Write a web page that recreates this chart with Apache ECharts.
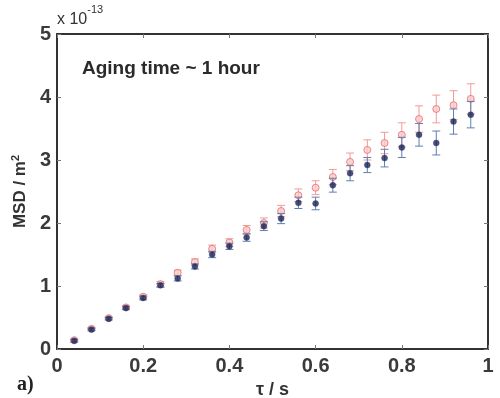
<!DOCTYPE html>
<html>
<head>
<meta charset="utf-8">
<script src="https://cdn.jsdelivr.net/npm/echarts@6/dist/echarts.min.js"></script>
<style>html,body{margin:0;padding:0;background:#fff}#c{width:500px;height:398px}</style>
</head>
<body>
<div id="c"></div>
<script>
var tau = [0.04,0.08,0.12,0.16,0.20,0.24,0.28,0.32,0.36,0.40,0.44,0.48,0.52,0.56,0.60,0.64,0.68,0.72,0.76,0.80,0.84,0.88,0.92,0.96];
var msdBlue = [0.13,0.31,0.48,0.65,0.81,1.01,1.12,1.31,1.50,1.63,1.77,1.95,2.07,2.32,2.31,2.60,2.79,2.92,3.03,3.20,3.40,3.27,3.61,3.72];
var errBlue = [0.02,0.02,0.02,0.02,0.03,0.03,0.04,0.04,0.05,0.05,0.06,0.07,0.08,0.09,0.10,0.11,0.12,0.12,0.14,0.16,0.18,0.19,0.20,0.21];
var msdRed = [0.14,0.32,0.49,0.66,0.83,1.03,1.21,1.38,1.59,1.69,1.89,2.00,2.19,2.44,2.56,2.73,2.97,3.16,3.27,3.40,3.65,3.81,3.87,3.97];
var errRed = [0.02,0.02,0.02,0.03,0.03,0.04,0.04,0.05,0.06,0.06,0.07,0.08,0.09,0.10,0.11,0.12,0.14,0.16,0.17,0.19,0.21,0.22,0.23,0.24];
var xTicks = [0, 0.2, 0.4, 0.6, 0.8, 1];
var yTicks = [0, 1, 2, 3, 4, 5];

function pairs(xs, ys){ return xs.map(function(x,i){ return [x, ys[i]]; }); }
function errData(xs, ys, es){ return xs.map(function(x,i){ return [x, ys[i]-es[i], ys[i]+es[i]]; }); }
function errRender(color){
  return function(params, api){
    var lo = api.coord([api.value(0), api.value(1)]);
    var hi = api.coord([api.value(0), api.value(2)]);
    var w = 4;
    var st = {stroke: color, lineWidth: 1};
    return {type:'group', children:[
      {type:'line', shape:{x1:lo[0],y1:lo[1],x2:hi[0],y2:hi[1]}, style:st},
      {type:'line', shape:{x1:lo[0]-w,y1:lo[1],x2:lo[0]+w,y2:lo[1]}, style:st},
      {type:'line', shape:{x1:hi[0]-w,y1:hi[1],x2:hi[0]+w,y2:hi[1]}, style:st}
    ]};
  };
}

var FF = 'Liberation Sans, Arial, sans-serif';
var chart = echarts.init(document.getElementById('c'), null, {renderer:'canvas'});
var labelFont = {fontFamily:FF, fontSize:20, fontWeight:'bold', color:'#3a3a3a'};
var axisLine = {show:true, onZero:false, lineStyle:{color:'#333', width:2}};
var axisTick = {show:true, inside:true, length:4, lineStyle:{color:'#777', width:1}};
chart.setOption({
  animation:false,
  backgroundColor:'#fff',
  grid:{left:57, right:12, top:34, bottom:49, containLabel:false, outerBoundsMode:'none'},
  xAxis:[{
    type:'value', min:0, max:1, interval:0.2, position:'bottom',
    axisLine:axisLine, axisTick:axisTick, splitLine:{show:false},
    axisLabel:Object.assign({margin:7, formatter:function(v){return xTicks.indexOf(v)>=0? String(v):'';}}, labelFont),
    name:'τ / s', nameLocation:'middle', nameGap:31,
    nameTextStyle:{fontFamily:FF, fontSize:18, fontWeight:'bold', color:'#333'}
  },{
    type:'value', min:0, max:1, interval:0.2, position:'top',
    axisLine:axisLine, axisTick:axisTick, splitLine:{show:false}, axisLabel:{show:false}
  }],
  yAxis:[{
    type:'value', min:0, max:5, interval:1, position:'left',
    axisLine:axisLine, axisTick:axisTick, splitLine:{show:false},
    axisLabel:Object.assign({margin:6, formatter:function(v){return yTicks.indexOf(v)>=0? String(v):'';}}, labelFont),
    name:'{a|MSD / m}{s|2}', nameLocation:'middle', nameGap:22, nameRotate:90,
    nameTextStyle:{rich:{
      a:{fontFamily:FF, fontSize:17, fontWeight:'bold', color:'#333'},
      s:{fontFamily:FF, fontSize:11, fontWeight:'bold', color:'#333', verticalAlign:'top', padding:[0,0,10,0]}
    }}
  },{
    type:'value', min:0, max:5, interval:1, position:'right',
    axisLine:axisLine, axisTick:axisTick, splitLine:{show:false}, axisLabel:{show:false}
  }],
  graphic:[
    {type:'text', left:57, top:4, style:{text:'{a|x 10}{s|-13}', rich:{
      a:{fontFamily:FF, fontSize:16, fill:'#333', padding:[8,0,0,0]},
      s:{fontFamily:FF, fontSize:11, fill:'#333', verticalAlign:'top'}
    }}},
    {type:'text', left:82, top:59, style:{text:'Aging time ~ 1 hour', fontFamily:FF, fontSize:19, fontWeight:'bold', fill:'#2a2a2a'}},
    {type:'text', left:17, top:375, style:{text:'a)', fontFamily:'Liberation Serif, Times New Roman, serif', fontSize:20, fontWeight:'bold', fill:'#222'}}
  ],
  series:[
    {type:'custom', renderItem:errRender('#f29a9a'), data:errData(tau, msdRed, errRed), encode:{x:0, y:[1,2]}, z:1, silent:true},
    {type:'scatter', data:pairs(tau, msdRed), symbol:'circle', symbolSize:7,
     itemStyle:{color:'#f9cccc', borderColor:'#ee6b6b', borderWidth:1}, z:2, silent:true},
    {type:'custom', renderItem:errRender('#5f7fb0'), data:errData(tau, msdBlue, errBlue), encode:{x:0, y:[1,2]}, z:3, silent:true},
    {type:'scatter', data:pairs(tau, msdBlue), symbol:'circle', symbolSize:6,
     itemStyle:{color:'#1c2352', borderColor:'#3a4a80', borderWidth:0.5}, z:4, silent:true}
  ]
});
</script>
</body>
</html>
